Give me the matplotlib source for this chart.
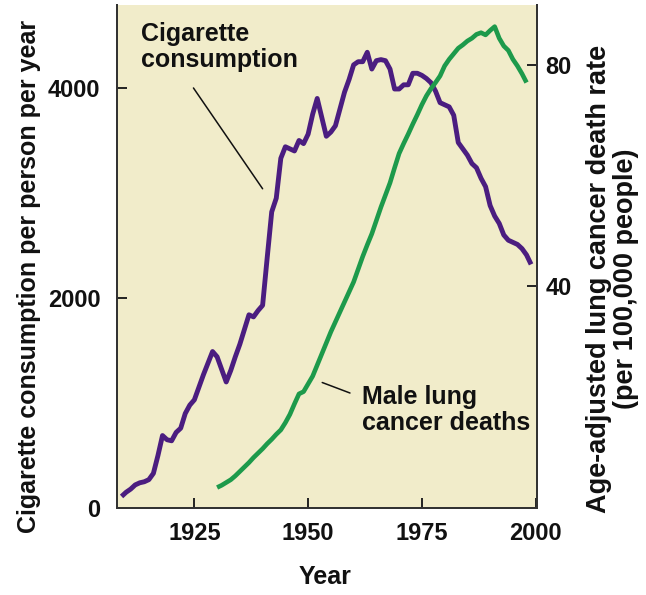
import numpy as np
import matplotlib
matplotlib.use("Agg")
from matplotlib import pyplot as plt

plt.rcParams['font.family'] = ['Liberation Sans', 'DejaVu Sans']
plt.rcParams['font.weight'] = 'bold'

# cigarette consumption per person per year (left axis)
cig_years = list(range(1909, 2000))
cig_values = [
    110, 150, 180, 220, 240, 250, 270, 330, 500, 690,      # 1909-1918
    650, 640, 720, 760, 900, 980, 1030, 1150, 1270, 1380,  # 1919-1928
    1490, 1440, 1320, 1200, 1310, 1440, 1560, 1700, 1840, 1820,  # 1929-1938
    1880, 1930, 2380, 2820, 2950, 3330, 3440, 3420, 3400, 3500,  # 1939-1948
    3470, 3560, 3750, 3900, 3720, 3540, 3580, 3640, 3800, 3960,  # 1949-1958
    4080, 4220, 4250, 4250, 4340, 4180, 4260, 4270, 4260, 4180,  # 1959-1968
    3990, 3990, 4030, 4030, 4140, 4140, 4120, 4090, 4050, 3970,  # 1969-1978
    3860, 3840, 3820, 3740, 3480, 3420, 3360, 3280, 3240, 3140,  # 1979-1988
    3060, 2880, 2780, 2710, 2600, 2550, 2530, 2510, 2470, 2410,  # 1989-1998
    2320,                                                  # 1999
]

# male lung cancer death rate per 100,000 (right axis)
lung_years = list(range(1930, 1999))
lung_values = [
    3.7, 4.1, 4.6, 5.1, 5.8, 6.6, 7.4, 8.2, 9.1, 9.9,      # 1930-1939
    10.7, 11.6, 12.4, 13.3, 14.1, 15.4, 16.9, 18.8, 20.6, 21.0,  # 1940-1949
    22.4, 23.8, 25.8, 27.8, 29.8, 31.8, 33.6, 35.4, 37.2, 39.0,  # 1950-1959
    40.8, 43.1, 45.4, 47.5, 49.5, 51.9, 54.3, 56.5, 58.7, 61.4,  # 1960-1969
    64.0, 65.8, 67.5, 69.3, 71.0, 72.8, 74.4, 75.7, 76.8, 78.0,  # 1970-1979
    79.8, 81.0, 82.0, 83.0, 83.6, 84.3, 84.8, 85.5, 85.8, 85.4,  # 1980-1989
    86.2, 86.9, 84.8, 83.4, 82.6, 81.0, 79.8, 78.4, 76.8,  # 1990-1998
]

left_ticks = [0, 2000, 4000]
right_ticks = [40, 80]
year_ticks = [1925, 1950, 1975, 2000]

bg = '#f1ecca'
purple = '#4b1d80'
green = '#1d9a4b'
spine_col = '#333333'
txt = '#111111'

fig = plt.figure(figsize=(6.46, 5.95), dpi=100)
ax = fig.add_axes([117 / 646, 87 / 595, 420 / 646, 503 / 595])
ax.set_facecolor(bg)
ax2 = ax.twinx()

ax.plot(cig_years, cig_values, color=purple, lw=3.5, solid_capstyle='butt', zorder=3)
ax2.plot(lung_years, lung_values, color=green, lw=3.3, solid_capstyle='butt', zorder=3)

ax.set_xlim(1908, 2000.3)
ax.set_ylim(0, 4790)
ax2.set_ylim(0, 90.8)

ax.set_xticks(year_ticks)
ax.set_yticks(left_ticks)
ax2.set_yticks(right_ticks)

for a in (ax, ax2):
    a.spines['top'].set_visible(False)
    for s in ('left', 'right', 'bottom'):
        a.spines[s].set_color(spine_col)
        a.spines[s].set_linewidth(1.4)

ax.tick_params(axis='both', direction='in', length=7, width=1.4, color='#222222',
               labelsize=17, labelcolor=txt)
ax.tick_params(axis='y', pad=12)
ax.tick_params(axis='x', pad=10)
ax2.tick_params(axis='y', direction='in', length=7, width=1.4, color='#222222',
                labelsize=17, labelcolor=txt, pad=6)

ax.set_xlabel('Year', fontsize=18, fontweight='bold', color=txt)
ax.xaxis.set_label_coords(0.495, -0.113)
ax.set_ylabel('Cigarette consumption per person per year', fontsize=18,
              fontweight='bold', color=txt)
ax.yaxis.set_label_coords(-0.181, 0.46)
ax2.set_ylabel('Age-adjusted lung cancer death rate\n(per 100,000 people)', fontsize=19.5,
               fontweight='bold', color=txt, linespacing=1.05)
ax2.yaxis.set_label_coords(1.117, 0.455)

ax.annotate('', xy=(1940.0, 3040), xytext=(1924.8, 4000),
            arrowprops=dict(arrowstyle='-', color=txt, lw=1.1, shrinkA=0, shrinkB=0))
ax.text(1913.2, 4627, 'Cigarette\nconsumption', fontsize=18, fontweight='bold',
        color=txt, ha='left', va='top', linespacing=1.1)

ax.annotate('', xy=(1953.1, 1195), xytext=(1959.2, 1095),
            arrowprops=dict(arrowstyle='-', color=txt, lw=1.1, shrinkA=0, shrinkB=0))
ax.text(1961.8, 1171, 'Male lung\ncancer deaths', fontsize=18, fontweight='bold',
        color=txt, ha='left', va='top', linespacing=1.1)

fig.savefig('out.png', dpi=100, facecolor='white')
